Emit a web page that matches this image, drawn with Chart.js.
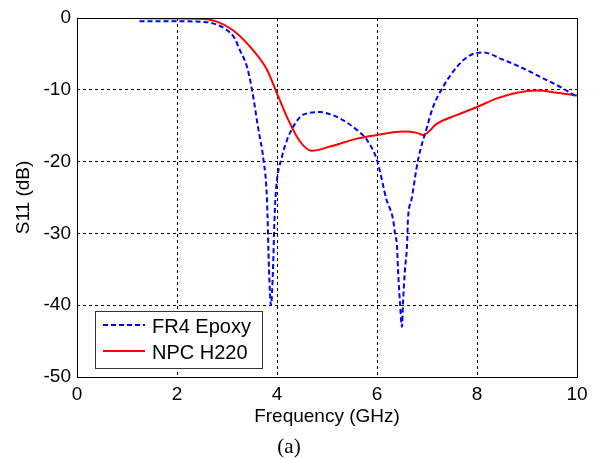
<!DOCTYPE html>
<html>
<head>
<meta charset="utf-8">
<script src="https://cdn.jsdelivr.net/npm/chart.js@4.4.0/dist/chart.umd.min.js"></script>
<style>
  html, body { margin: 0; padding: 0; background: #fff; }
  #wrap { width: 594px; height: 459px; }
</style>
</head>
<body>
<div id="wrap"><canvas id="s11chart" width="594" height="459"></canvas></div>
<script>
// FR4 Epoxy (blue dashed)
const fr4Freq = [1.25, 2.0, 2.4, 2.72, 3.0, 3.15, 3.26, 3.4, 3.5, 3.62, 3.73, 3.8, 3.84, 3.88, 3.92, 3.95, 3.98, 4.1, 4.2, 4.26, 4.46, 4.66, 4.86, 5.06, 5.26, 5.6, 5.8, 6.0, 6.19, 6.32, 6.36, 6.4, 6.42, 6.46, 6.5, 6.52, 6.56, 6.6, 6.62, 6.69, 6.82, 7.0, 7.12, 7.32, 7.6, 7.86, 8.12, 8.52, 8.92, 9.32, 9.72, 10];
const fr4S11 = [-0.45, -0.45, -0.5, -0.75, -1.7, -2.8, -4.5, -6.8, -10, -15.2, -19.8, -25.3, -35, -40, -35, -28, -24, -19.3, -17, -16, -13.8, -13.2, -13.1, -13.4, -14, -15.6, -17, -19.8, -25.3, -28, -30, -31.8, -35, -39.7, -43, -39.7, -35, -31.8, -28, -25.3, -19.8, -15.2, -12.4, -9.6, -6.8, -5.2, -4.8, -5.8, -7, -8.4, -9.8, -11];

// NPC H220 (red solid)
const npcFreq = [1.25, 2.46, 2.8, 3.12, 3.46, 3.8, 4.0, 4.2, 4.46, 4.7, 5.06, 5.6, 6.0, 6.52, 6.8, 6.92, 7.2, 7.6, 8.0, 8.4, 8.8, 9.2, 9.6, 10];
const npcS11 = [-0.05, -0.1, -0.5, -1.7, -4, -7.2, -10.5, -13.8, -17.2, -18.5, -17.9, -16.8, -16.3, -15.8, -16, -16.3, -14.7, -13.5, -12.4, -11.2, -10.4, -10.1, -10.4, -10.8];

const xTicks = [0, 2, 4, 6, 8, 10];
const yTicks = [-50, -40, -30, -20, -10, 0];

const toPoints = (xs, ys) => xs.map((x, i) => ({x: x, y: ys[i]}));

const FONT = 'Liberation Sans, Arial, sans-serif';

// frame, legend box and caption
const framePlugin = {
  id: 'frame',
  afterDraw(chart) {
    const {ctx, chartArea: a} = chart;
    ctx.save();
    ctx.strokeStyle = '#000';
    ctx.lineWidth = 1;
    ctx.setLineDash([]);
    ctx.strokeRect(a.left + 0.5, a.top + 0.5, a.right - a.left, a.bottom - a.top);

    // legend
    const lx = 95, ly = 311, lw = 167, lh = 57;
    ctx.fillStyle = '#fff';
    ctx.fillRect(lx, ly, lw, lh);
    ctx.strokeStyle = '#333';
    ctx.strokeRect(lx + 0.5, ly + 0.5, lw, lh);
    const items = chart.data.datasets;
    ctx.font = '20px ' + FONT;
    ctx.textBaseline = 'alphabetic';
    items.forEach((ds, i) => {
      const y = ly + 14 + i * 26;
      ctx.strokeStyle = ds.borderColor;
      ctx.lineWidth = 2;
      ctx.setLineDash(ds.borderDash || []);
      ctx.beginPath();
      ctx.moveTo(lx + 8, y);
      ctx.lineTo(lx + 50, y);
      ctx.stroke();
      ctx.setLineDash([]);
      ctx.fillStyle = '#000';
      ctx.fillText(ds.label, lx + 57, y + 8);
    });

    // caption
    ctx.font = '21px Liberation Serif, Times New Roman, serif';
    ctx.textAlign = 'center';
    ctx.textBaseline = 'alphabetic';
    ctx.fillText('(a)', 289, 453);
    ctx.restore();
  }
};

const ctx = document.getElementById('s11chart');
const s11Chart = new Chart(ctx, {
  type: 'scatter',
  data: {
    datasets: [{
      label: 'FR4 Epoxy',
      data: toPoints(fr4Freq, fr4S11),
      showLine: true,
      borderColor: '#0000ff',
      borderWidth: 2,
      borderDash: [5, 3],
      pointRadius: 0,
      cubicInterpolationMode: 'monotone'
    }, {
      label: 'NPC H220',
      data: toPoints(npcFreq, npcS11),
      showLine: true,
      borderColor: '#ff0000',
      borderWidth: 2,
      pointRadius: 0,
      cubicInterpolationMode: 'monotone'
    }]
  },
  options: {
    responsive: false,
    animation: false,
    layout: { padding: { left: 0, right: 17, top: 18, bottom: 0 } },
    plugins: {
      legend: { display: false },
      tooltip: { enabled: false }
    },
    scales: {
      x: {
        type: 'linear',
        min: 0,
        max: 10,
        afterBuildTicks: (axis) => { axis.ticks = xTicks.map(v => ({value: v})); },
        afterFit: (axis) => { axis.height = 82; },
        grid: { color: '#000', lineWidth: 1, drawTicks: false },
        border: { display: false, dash: [3, 3] },
        ticks: { color: '#000', padding: 6, maxRotation: 0, font: { family: FONT, size: 19 } },
        title: { display: true, text: 'Frequency (GHz)', color: '#000', padding: { top: 0, bottom: 31 }, font: { family: FONT, size: 19 } }
      },
      y: {
        type: 'linear',
        min: -50,
        max: 0,
        afterBuildTicks: (axis) => { axis.ticks = yTicks.map(v => ({value: v})); },
        afterFit: (axis) => { axis.width = 77; },
        grid: { color: '#000', lineWidth: 1, drawTicks: false },
        border: { display: false, dash: [3, 3] },
        ticks: { color: '#000', padding: 6, font: { family: FONT, size: 19 } },
        title: { display: true, text: 'S11 (dB)', color: '#000', padding: { top: 12, bottom: 0 }, font: { family: FONT, size: 19 } }
      }
    }
  },
  plugins: [framePlugin]
});
</script>
</body>
</html>
